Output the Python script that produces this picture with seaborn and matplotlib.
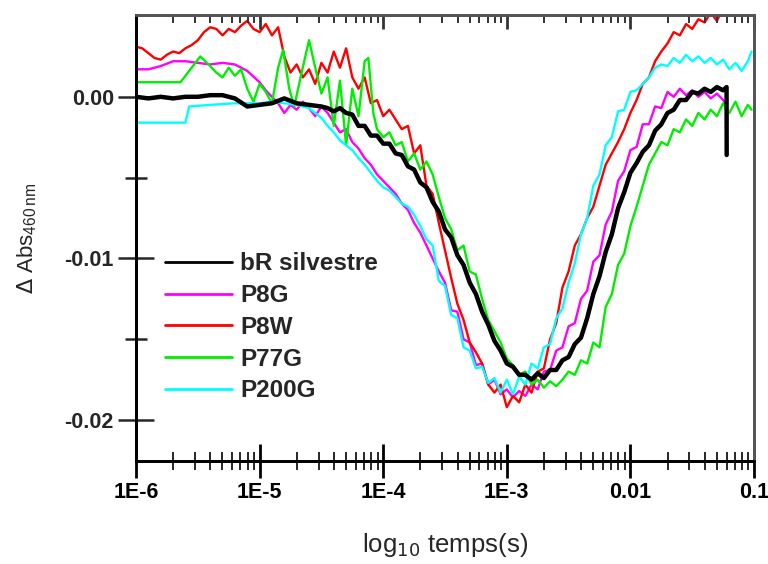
import numpy as np
import pandas as pd
import matplotlib
matplotlib.use("Agg")
import matplotlib.pyplot as plt
import seaborn as sns
from matplotlib.lines import Line2D
from matplotlib.ticker import FixedLocator, LogLocator, NullFormatter, FixedFormatter

# ---------------- data (log10 of time in s, Delta Abs) ----------------
bR_t = [-6.0, -5.9, -5.8, -5.7, -5.6, -5.5, -5.4, -5.3, -5.2, -5.1, -5.0, -4.9, -4.8, -4.7, -4.6, -4.5,
        -4.45, -4.40, -4.35, -4.30, -4.25, -4.20, -4.15, -4.10, -4.05, -4.00, -3.95, -3.90, -3.85, -3.80,
        -3.75, -3.70, -3.65, -3.60, -3.55, -3.50, -3.45, -3.40, -3.35, -3.30, -3.25, -3.20, -3.15, -3.10,
        -3.05, -3.00, -2.95, -2.90, -2.85, -2.80, -2.75, -2.70, -2.65, -2.60, -2.55, -2.50, -2.45, -2.40,
        -2.35, -2.30, -2.25, -2.20, -2.15, -2.10, -2.05, -2.00, -1.95, -1.90, -1.85, -1.80, -1.75, -1.70,
        -1.65, -1.60, -1.55, -1.50, -1.45, -1.40, -1.35, -1.30, -1.25, -1.222, -1.221]
bR_v = [0.0000, -0.0001, 0.0000, -0.0001, 0.0000, 0.0000, 0.0001, 0.0001, -0.0001, -0.0006, -0.0005, -0.0004,
        -0.0001, -0.0004, -0.0005, -0.0006,
        -0.0007, -0.0009, -0.0007, -0.0010, -0.0011, -0.0018, -0.0018, -0.0024, -0.0024, -0.0029, -0.0029,
        -0.0035, -0.0036, -0.0043, -0.0045, -0.0053, -0.0056, -0.0065, -0.0071, -0.0082, -0.0087, -0.0098,
        -0.0104, -0.0115, -0.0122, -0.0133, -0.0141, -0.0151, -0.0157, -0.0165, -0.0167, -0.0172, -0.0172,
        -0.0175, -0.0171, -0.0174, -0.0169, -0.0169, -0.0163, -0.0161, -0.0153, -0.0149, -0.0137, -0.0122,
        -0.0111, -0.0096, -0.0085, -0.0069, -0.0059, -0.0047, -0.0041, -0.0034, -0.0030, -0.0021, -0.0017,
        -0.0010, -0.0008, -0.0002, -0.0002, 0.0003, 0.0002, 0.0005, 0.0003, 0.0006, 0.0004, 0.0006, -0.0036]

p8g_t = [-6.0, -5.9, -5.8, -5.7, -5.6, -5.5, -5.4, -5.3, -5.2, -5.1, -5.0, -4.95, -4.9, -4.85, -4.8, -4.75,
         -4.7, -4.65, -4.6, -4.55, -4.5, -4.45, -4.4, -4.35, -4.3, -4.25, -4.2, -4.15, -4.1, -4.05, -4.0,
         -3.95, -3.9, -3.85, -3.8, -3.75, -3.7, -3.65, -3.6, -3.55, -3.5, -3.45, -3.4, -3.35, -3.3, -3.25,
         -3.2, -3.15, -3.1, -3.05, -3.0, -2.95, -2.9, -2.85, -2.8, -2.75, -2.7, -2.65, -2.6, -2.55, -2.5,
         -2.45, -2.4, -2.35, -2.3, -2.25, -2.2, -2.15, -2.1, -2.05, -2.0, -1.95, -1.9, -1.85, -1.8, -1.75,
         -1.7, -1.65, -1.6, -1.55, -1.5, -1.45, -1.4, -1.35, -1.3, -1.25, -1.22]
p8g_v = [0.0017, 0.0017, 0.0019, 0.0022, 0.0022, 0.0021, 0.0020, 0.0021, 0.0020, 0.0016, 0.0009, 0.0004,
         0.0000, -0.0004, -0.0010, -0.0005, -0.0008, -0.0003, -0.0007, -0.0012, -0.0006, -0.0010, -0.0016,
         -0.0022, -0.0020, -0.0028, -0.0032, -0.0038, -0.0042, -0.0048, -0.0052, -0.0056, -0.0060, -0.0066,
         -0.0070, -0.0078, -0.0084, -0.0092, -0.0100, -0.0108, -0.0115, -0.0132, -0.0133, -0.0150, -0.0152,
         -0.0166, -0.0165, -0.0178, -0.0175, -0.0184, -0.0181, -0.0186, -0.0182, -0.0185, -0.0178, -0.0181,
         -0.0170, -0.0169, -0.0157, -0.0155, -0.0142, -0.0140, -0.0125, -0.0120, -0.0102, -0.0098, -0.0079,
         -0.0071, -0.0052, -0.0046, -0.0033, -0.0031, -0.0017, -0.0017, -0.0006, -0.0007, 0.0003, 0.0000,
         0.0005, 0.0001, 0.0004, 0.0000, 0.0003, -0.0001, 0.0002, -0.0002, -0.0005]

p8w_t = [-6.0, -5.95, -5.9, -5.85, -5.8, -5.75, -5.7, -5.65, -5.6, -5.55, -5.5, -5.45, -5.4, -5.35, -5.3,
         -5.25, -5.2, -5.15, -5.1, -5.05, -5.0, -4.95, -4.9, -4.85, -4.8, -4.75, -4.7, -4.65, -4.6, -4.55,
         -4.5, -4.45, -4.4, -4.35, -4.3, -4.25, -4.2, -4.15, -4.1, -4.05, -4.0, -3.95, -3.9, -3.85, -3.8,
         -3.75, -3.7, -3.65, -3.6, -3.55, -3.5, -3.45, -3.4, -3.35, -3.3, -3.25, -3.2, -3.15, -3.1, -3.05,
         -3.0, -2.95, -2.9, -2.85, -2.8, -2.75, -2.7, -2.65, -2.6, -2.55, -2.5, -2.45, -2.4, -2.35, -2.3,
         -2.25, -2.2, -2.15, -2.1, -2.05, -2.0, -1.95, -1.9, -1.85, -1.8, -1.75, -1.7, -1.65, -1.6, -1.55,
         -1.5, -1.45, -1.4, -1.35, -1.3, -1.25, -1.22]
p8w_v = [0.0031, 0.0030, 0.0027, 0.0024, 0.0023, 0.0026, 0.0028, 0.0027, 0.0030, 0.0032, 0.0035, 0.0040,
         0.0043, 0.0042, 0.0038, 0.0042, 0.0040, 0.0044, 0.0047, 0.0042, 0.0040, 0.0045, 0.0038, 0.0043,
         0.0025, 0.0015, 0.0020, 0.0012, 0.0017, 0.0008, 0.0021, 0.0015, 0.0028, 0.0018, 0.0030, 0.0012,
         0.0005, 0.0012, -0.0004, -0.0002, -0.0012, -0.0008, -0.0014, -0.0020, -0.0018, -0.0035, -0.0030,
         -0.0055, -0.0060, -0.0078, -0.0095, -0.0112, -0.0128, -0.0138, -0.0152, -0.0158, -0.0165, -0.0178,
         -0.0183, -0.0178, -0.0192, -0.0185, -0.0189, -0.0178, -0.0183, -0.0170, -0.0168, -0.0150, -0.0140,
         -0.0118, -0.0108, -0.0092, -0.0085, -0.0075, -0.0068, -0.0055, -0.0042, -0.0035, -0.0028, -0.0020,
         -0.0010, -0.0002, 0.0008, 0.0012, 0.0022, 0.0028, 0.0033, 0.0040, 0.0038, 0.0045, 0.0042, 0.0048,
         0.0046, 0.0052, 0.0047, 0.0055, 0.0050]

p77g_t = [-6.0, -5.7, -5.64, -5.55, -5.48, -5.4, -5.35, -5.3, -5.25, -5.2, -5.15, -5.1, -5.05, -5.0, -4.95,
          -4.9, -4.85, -4.81, -4.76, -4.72, -4.66, -4.6, -4.55, -4.5, -4.45, -4.4, -4.35, -4.3, -4.25, -4.2,
          -4.15, -4.12, -4.08, -4.05, -4.0, -3.95, -3.9, -3.85, -3.8, -3.75, -3.7, -3.65, -3.6, -3.55, -3.5,
          -3.45, -3.4, -3.35, -3.3, -3.25, -3.2, -3.15, -3.1, -3.05, -3.0, -2.95, -2.9, -2.85, -2.8, -2.75,
          -2.7, -2.65, -2.6, -2.55, -2.5, -2.45, -2.4, -2.35, -2.3, -2.25, -2.2, -2.15, -2.1, -2.05, -2.0,
          -1.95, -1.9, -1.85, -1.8, -1.75, -1.7, -1.65, -1.6, -1.55, -1.5, -1.45, -1.4, -1.35, -1.3, -1.25,
          -1.2, -1.15, -1.1, -1.05, -1.02]
p77g_v = [0.0009, 0.0009, 0.0009, 0.0018, 0.0025, 0.0019, 0.0015, 0.0012, 0.0018, 0.0013, 0.0017, 0.0005,
          -0.0003, 0.0008, 0.0003, -0.0004, 0.0018, 0.0029, 0.0005, -0.0006, 0.0015, 0.0035, 0.0018, 0.0002,
          0.0012, -0.0018, 0.0010, -0.0030, 0.0005, -0.0012, 0.0022, 0.0024, -0.0010, -0.0020, -0.0025,
          -0.0022, -0.0030, -0.0028, -0.0040, -0.0035, -0.0045, -0.0040, -0.0048, -0.0062, -0.0075, -0.0082,
          -0.0095, -0.0092, -0.0108, -0.0110, -0.0125, -0.0138, -0.0145, -0.0152, -0.0162, -0.0166, -0.0172,
          -0.0170, -0.0178, -0.0175, -0.0180, -0.0176, -0.0179, -0.0175, -0.0170, -0.0172, -0.0163, -0.0165,
          -0.0152, -0.0155, -0.0130, -0.0122, -0.0104, -0.0097, -0.0080, -0.0068, -0.0055, -0.0042, -0.0035,
          -0.0028, -0.0030, -0.0020, -0.0022, -0.0014, -0.0018, -0.0010, -0.0014, -0.0008, -0.0012, -0.0004,
          -0.0010, -0.0003, -0.0012, -0.0005, -0.0008]

p200g_t = [-6.0, -5.6, -5.57, -5.4, -5.2, -5.0, -4.9, -4.8, -4.7, -4.6, -4.55, -4.5, -4.45, -4.4, -4.35,
           -4.3, -4.25, -4.2, -4.15, -4.1, -4.05, -4.0, -3.95, -3.9, -3.85, -3.8, -3.75, -3.7, -3.65, -3.6,
           -3.55, -3.5, -3.45, -3.4, -3.35, -3.3, -3.25, -3.2, -3.15, -3.1, -3.05, -3.0, -2.95, -2.9, -2.85,
           -2.8, -2.75, -2.7, -2.65, -2.6, -2.55, -2.5, -2.45, -2.4, -2.35, -2.3, -2.25, -2.2, -2.15, -2.1,
           -2.05, -2.0, -1.95, -1.9, -1.85, -1.8, -1.75, -1.7, -1.65, -1.6, -1.55, -1.5, -1.45, -1.4, -1.35,
           -1.3, -1.25, -1.2, -1.15, -1.1, -1.05, -1.02]
p200g_v = [-0.0016, -0.0016, -0.0006, -0.0005, -0.0004, -0.0004, -0.0003, -0.0004, -0.0005, -0.0007, -0.0010,
           -0.0013, -0.0018, -0.0022, -0.0027, -0.0030, -0.0033, -0.0038, -0.0042, -0.0047, -0.0052, -0.0056,
           -0.0058, -0.0062, -0.0066, -0.0068, -0.0073, -0.0080, -0.0088, -0.0092, -0.0114, -0.0117, -0.0135,
           -0.0137, -0.0155, -0.0157, -0.0168, -0.0167, -0.0177, -0.0174, -0.0183, -0.0175, -0.0184, -0.0173,
           -0.0178, -0.0165, -0.0168, -0.0155, -0.0153, -0.0137, -0.0131, -0.0115, -0.0103, -0.0085, -0.0075,
           -0.0055, -0.0048, -0.0030, -0.0025, -0.0009, -0.0008, 0.0003, 0.0004, 0.0008, 0.0012, 0.0018,
           0.0020, 0.0019, 0.0024, 0.0021, 0.0026, 0.0022, 0.0025, 0.0021, 0.0024, 0.0020, 0.0023, 0.0017,
           0.0021, 0.0016, 0.0022, 0.0028]

series_names = ["bR silvestre", "P8G", "P8W", "P77G", "P200G"]
series_colors = ["#000000", "#ff00ff", "#ff0000", "#00ee00", "#00ffff"]
x_tick_labels = ["1E-6", "1E-5", "1E-4", "1E-3", "0.01", "0.1"]
y_tick_labels = ["0.00", "-0.01", "-0.02"]

# ---------------- figure ----------------
sns.set_theme(style="ticks")
plt.rcParams["font.family"] = ["Liberation Sans", "DejaVu Sans"]

fig = plt.figure(figsize=(7.68, 5.64), dpi=100)
ax = fig.add_axes([136 / 768, (564 - 461) / 564, (754 - 136) / 768, (461 - 15) / 564])

data = {
    "bR silvestre": (bR_t, bR_v),
    "P8G": (p8g_t, p8g_v),
    "P8W": (p8w_t, p8w_v),
    "P77G": (p77g_t, p77g_v),
    "P200G": (p200g_t, p200g_v),
}
color_of = dict(zip(series_names, series_colors))
draw_order = ["P8G", "P8W", "P77G", "P200G", "bR silvestre"]
for name in draw_order:
    t, v = data[name]
    df = pd.DataFrame({"temps": np.power(10.0, np.array(t)), "dabs": np.array(v)})
    lw = 3.2 if name == "bR silvestre" else 1.7
    sns.lineplot(data=df, x="temps", y="dabs", ax=ax, color=color_of[name], lw=lw,
                 estimator=None, sort=False, legend=False)

ax.set_xscale("log")
xlim = (1e-6, 0.1)
ax.set_xlim(*xlim)
ax.set_ylim(-0.02253, 0.00506)

# ticks
major_x = [1e-6, 1e-5, 1e-4, 1e-3, 1e-2, 1e-1]
ax.xaxis.set_major_locator(FixedLocator(major_x))
ax.xaxis.set_major_formatter(FixedFormatter(x_tick_labels))
ax.xaxis.set_minor_locator(LogLocator(base=10, subs=np.arange(2, 10), numticks=20))
ax.xaxis.set_minor_formatter(NullFormatter())
ax.yaxis.set_major_locator(FixedLocator([0.0, -0.01, -0.02]))
ax.yaxis.set_major_formatter(FixedFormatter(y_tick_labels))
ax.yaxis.set_minor_locator(FixedLocator([-0.005, -0.015]))

ax.tick_params(axis="x", which="major", direction="inout", length=24, width=2.0,
               top=False, labelsize=15.5, pad=3, colors="black")
ax.tick_params(axis="x", which="minor", direction="inout", length=13, width=1.4, top=False)
ax.tick_params(axis="y", which="major", direction="inout", length=26, width=1.8,
               right=False, labelsize=15.5, pad=3)
ax.tick_params(axis="y", which="minor", direction="inout", length=16, width=1.8, right=False)
for lab in ax.get_xticklabels() + ax.get_yticklabels():
    lab.set_fontweight("bold")

# top axis: inward ticks only
ax2 = ax.twiny()
ax2.set_xscale("log")
ax2.set_xlim(*xlim)
ax2.xaxis.set_major_locator(FixedLocator(major_x))
ax2.xaxis.set_minor_locator(LogLocator(base=10, subs=np.arange(2, 10), numticks=20))
ax2.xaxis.set_major_formatter(NullFormatter())
ax2.xaxis.set_minor_formatter(NullFormatter())
ax2.tick_params(axis="x", which="major", direction="in", length=10, width=2.0, top=True,
                labeltop=False, color="#333333")
ax2.tick_params(axis="x", which="minor", direction="in", length=6, width=1.4, top=True,
                color="#333333")
for a in (ax, ax2):
    for side in ["left", "bottom"]:
        a.spines[side].set_linewidth(2.0)
        a.spines[side].set_color("black")
    for side in ["top", "right"]:
        a.spines[side].set_linewidth(2.0)
        a.spines[side].set_color("#555555")

ax.set_xlabel(r"log$_{10}$ temps(s)", fontsize=18.5, labelpad=20)
ax.set_ylabel(r"$\Delta$ Abs$_{\mathregular{460\,nm}}$", fontsize=16, labelpad=18)

leg_handles = [Line2D([], [], color=color_of[n], lw=2.0) for n in series_names]
leg = ax.legend(leg_handles, series_names, loc="upper left", bbox_to_anchor=(0.047, 0.468),
                frameon=False, handlelength=2.75, handletextpad=0.33, labelspacing=0.36,
                borderpad=0, borderaxespad=0, prop={"weight": "bold", "size": 17.5})

fig.savefig("out.png", dpi=100)
